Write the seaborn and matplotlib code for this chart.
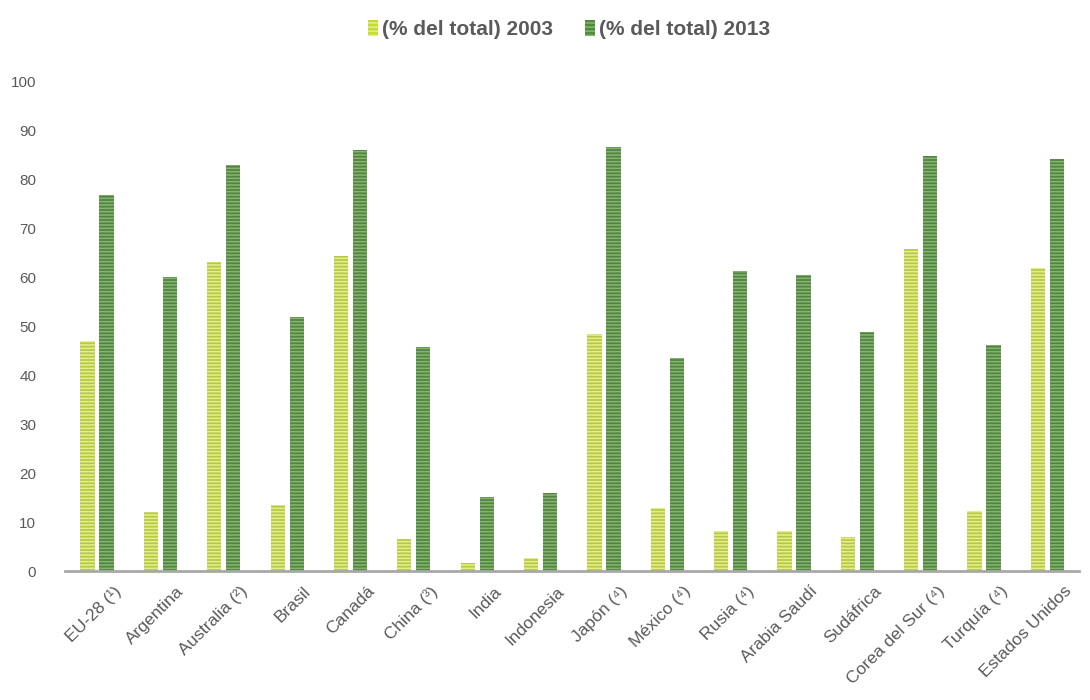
import seaborn as sns
import matplotlib.pyplot as plt
import matplotlib.transforms as mtransforms
import pandas as pd
from matplotlib.patches import Patch

paises = ['EU-28 (¹)', 'Argentina', 'Australia (²)', 'Brasil', 'Canadá', 'China (³)',
          'India', 'Indonesia', 'Japón (⁴)', 'México (⁴)', 'Rusia (⁴)', 'Arabia Saudí',
          'Sudáfrica', 'Corea del Sur (⁴)', 'Turquía (⁴)', 'Estados Unidos']
v2003 = [47.1, 12.1, 63.1, 13.5, 64.5, 6.5, 1.7, 2.6, 48.5, 12.9, 8.2, 8.2, 7.0, 65.9, 12.4, 61.9]
v2013 = [76.9, 60.1, 83.1, 51.9, 86.0, 45.9, 15.2, 16.0, 86.6, 43.6, 61.4, 60.5, 48.8, 84.8, 46.3, 84.3]
series = ['(% del total) 2003', '(% del total) 2013']

df = pd.DataFrame({
    'pais': paises * 2,
    'valor': v2003 + v2013,
    'serie': [series[0]] * len(paises) + [series[1]] * len(paises),
})

fill = ['#c4dc30', '#4f8b3c']
hatchc = ['#e2ee88', '#80b667']
gris = '#5a5a5a'

sns.set_style('white')
plt.rcParams['font.family'] = ['Liberation Sans', 'DejaVu Sans']
plt.rcParams['hatch.linewidth'] = 1.2

fig = plt.figure(figsize=(10.9, 7), dpi=100)
ax = fig.add_axes([0.06, 0.184, 0.93, 0.699])

sns.barplot(data=df, x='pais', y='valor', hue='serie', palette=fill,
            width=0.6, gap=0.25, ax=ax, legend=False)

# horizontal stripes on the bars
for i, cont in enumerate(ax.containers):
    for bar in cont:
        bar.set_hatch('-----')
        bar.set_edgecolor(hatchc[i])
        bar.set_linewidth(0)

ax.set_ylim(0, 100)
ax.set_xlim(-0.5, len(paises) - 0.5)
ax.set_yticks(range(0, 101, 10))
ax.set_xlabel('')
ax.set_ylabel('')
for s in ['top', 'right', 'left']:
    ax.spines[s].set_visible(False)
ax.spines['bottom'].set_color('#a8a8a8')
ax.spines['bottom'].set_linewidth(2)
ax.tick_params(axis='y', length=0, pad=21, labelsize=11, labelcolor=gris)
ax.tick_params(axis='x', length=0, pad=6, labelsize=12.5, labelcolor=gris)

# rotated labels, nudged to the right like the original
shift = mtransforms.ScaledTranslation(0.16, -0.04, fig.dpi_scale_trans)
for lab in ax.get_xticklabels():
    lab.set_rotation(45)
    lab.set_ha('right')
    lab.set_rotation_mode('anchor')
    lab.set_transform(lab.get_transform() + shift)

handles = [Patch(facecolor=fill[i], edgecolor=hatchc[i], hatch='----', linewidth=0)
           for i in range(2)]
fig.legend(handles, series, loc='center', bbox_to_anchor=(0.522, 0.958), ncol=2,
           frameon=False, handlelength=0.5, handleheight=0.85, handletextpad=0.2,
           columnspacing=1.5, prop={'size': 15, 'weight': 'bold'}, labelcolor=gris)

fig.savefig('out.png', dpi=100)
